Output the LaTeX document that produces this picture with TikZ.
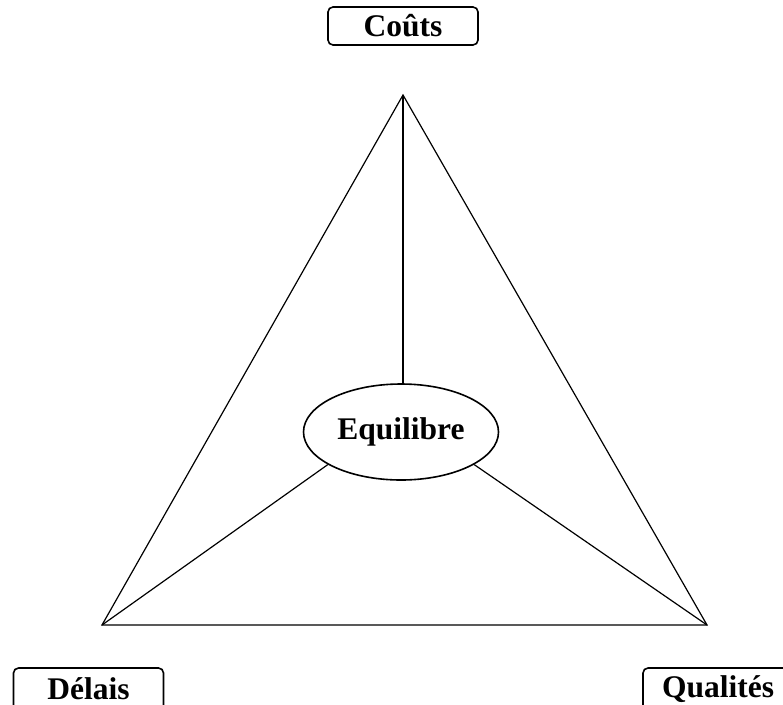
\documentclass[tikz,border=0pt]{standalone}
\usepackage{fontspec}
\setmainfont{Liberation Serif}
\usetikzlibrary{shapes.geometric}
\begin{document}
\begin{tikzpicture}[x=1pt,y=-1pt,
  edge/.style={line width=1.2pt},
  labelbox/.style={draw,line width=1.6pt,rounded corners=5pt,minimum width=150pt,minimum height=38pt,inner sep=0pt,font=\fontsize{31.5}{36}\selectfont\bfseries},
  lowbox/.style={labelbox,minimum height=42pt},
  centre/.style={draw,ellipse,line width=1.6pt,minimum width=195pt,minimum height=96pt,inner sep=0pt,font=\fontsize{31.5}{36}\selectfont\bfseries}]
\clip (0,0) rectangle (783,704);
\fill[white] (0,0) rectangle (783,704);
% triangle corners
\coordinate (top) at (403,95);
\coordinate (bl) at (102,625);
\coordinate (br) at (707,625);
\draw[edge] (top) -- (bl) -- (br) -- cycle;
% centre of balance
\node[centre] (eq) at (401,432) {Equilibre};
\draw[edge] (top) -- (top |- eq.north);
\draw[edge] (bl) -- (eq.204);
\draw[edge] (br) -- (eq.336);
% corner labels
\node[labelbox] (couts) at (403,26) {Coûts};
\node[lowbox] (delais) at (88.5,689) {Délais};
\node[lowbox] (qualites) at (718,689) {Qualités};
\end{tikzpicture}
\end{document}
